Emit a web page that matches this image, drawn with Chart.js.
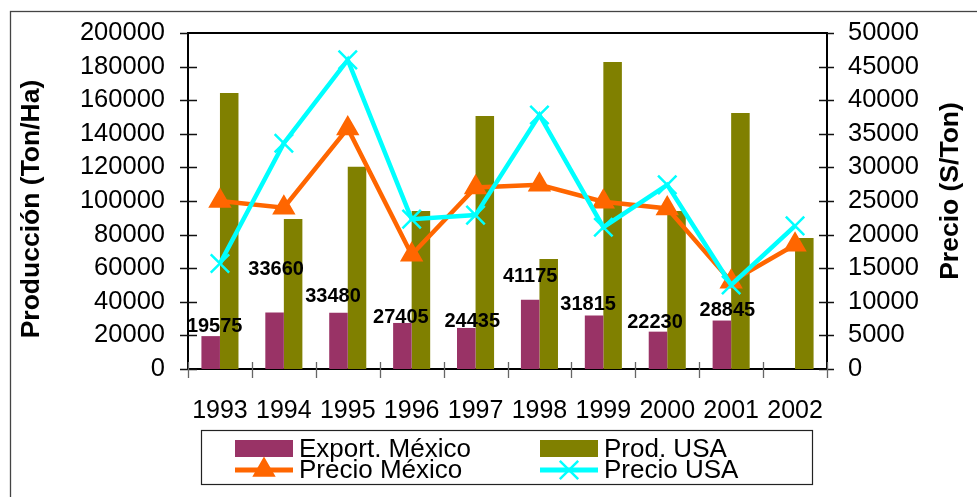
<!DOCTYPE html>
<html>
<head>
<meta charset="utf-8">
<script src="https://cdn.jsdelivr.net/npm/chart.js@4.4.1/dist/chart.umd.min.js"></script>
<style>
  html, body { margin: 0; padding: 0; background: #ffffff; }
  #wrap { width: 977px; height: 497px; }
</style>
</head>
<body>
<div id="wrap"><canvas id="chart" width="977" height="497"></canvas></div>
<script>
// Categories and series
const years = ['1993', '1994', '1995', '1996', '1997', '1998', '1999', '2000', '2001', '2002'];
const exportMexico = [19575, 33660, 33480, 27405, 24435, 41175, 31815, 22230, 28845, null];
const prodUSA = [164300, 89300, 120400, 94000, 150600, 65500, 182700, 94000, 152400, 78000];
const precioMexico = [25000, 24000, 35800, 17000, 27000, 27400, 24900, 23900, 13000, 18500];
const precioUSA = [15700, 33600, 46000, 22300, 22900, 37800, 21100, 27400, 12500, 21300];

// Axis tick values
const prodTicks = [0, 20000, 40000, 60000, 80000, 100000, 120000, 140000, 160000, 180000, 200000];
const precioTicks = [0, 5000, 10000, 15000, 20000, 25000, 30000, 35000, 40000, 45000, 50000];

// Nudges (px) for the export value labels, relative to the top centre of each bar
const labelShift = [[4, -10], [1.5, -43], [-5.5, -16], [-1.5, -5], [6, -6], [0, -23], [-6, -11], [-3, -9], [5.5, -10], [0, 0]];

const FONT = 'Arial, "Liberation Sans", sans-serif';
Chart.defaults.font.family = FONT;
Chart.defaults.color = '#000';

// White background and the outer frame
const framePlugin = {
  id: 'frame',
  beforeDraw(chart) {
    const ctx = chart.ctx;
    ctx.save();
    ctx.fillStyle = '#fff';
    ctx.fillRect(0, 0, chart.width, chart.height);
    ctx.strokeStyle = '#444';
    ctx.lineWidth = 1.3;
    ctx.strokeRect(10.5, 11.5, chart.width + 20, chart.height + 20);
    ctx.restore();
  }
};

// Top edge of the plot and tick marks that cross the axes
const axesPlugin = {
  id: 'axesExtra',
  afterDatasetsDraw(chart) {
    const ctx = chart.ctx;
    const a = chart.chartArea;
    const x = chart.scales.x, y = chart.scales.y, y2 = chart.scales.y2;
    ctx.save();
    ctx.lineCap = 'butt';
    ctx.strokeStyle = '#000';
    ctx.lineWidth = 2;
    ctx.beginPath();
    ctx.moveTo(a.left - 1, a.top);
    ctx.lineTo(a.right + 1, a.top);
    ctx.stroke();

    ctx.lineWidth = 1.3;
    ctx.strokeStyle = '#111';
    ctx.beginPath();
    y.ticks.forEach(t => {
      const p = Math.round(y.getPixelForValue(t.value)) + 0.5;
      ctx.moveTo(a.left - 8, p);
      ctx.lineTo(a.left + (t.value === y.max ? 0 : 9), p);
    });
    y2.ticks.forEach(t => {
      const p = Math.round(y2.getPixelForValue(t.value)) + 0.5;
      ctx.moveTo(a.right - (t.value === y2.max ? 0 : 8), p);
      ctx.lineTo(a.right + 7, p);
    });
    ctx.stroke();

    ctx.strokeStyle = '#666';
    ctx.beginPath();
    for (let i = 0; i <= years.length; i++) {
      const p = Math.round(x.getPixelForValue(i - 0.5)) + 0.5;
      ctx.moveTo(p, a.bottom - 7);
      ctx.lineTo(p, a.bottom + 9);
    }
    ctx.stroke();
    ctx.restore();
  }
};

// Value labels above the export bars
const valueLabels = {
  id: 'valueLabels',
  afterDatasetsDraw(chart) {
    const ctx = chart.ctx;
    const meta = chart.getDatasetMeta(0);
    const data = chart.data.datasets[0].data;
    ctx.save();
    ctx.font = 'bold 20px ' + FONT;
    ctx.fillStyle = '#000';
    ctx.textAlign = 'center';
    ctx.textBaseline = 'middle';
    meta.data.forEach((el, i) => {
      if (data[i] == null) return;
      const s = labelShift[i];
      ctx.fillText(String(data[i]), el.x + s[0], el.y + s[1]);
    });
    ctx.restore();
  }
};

// Rotated axis titles
const axisTitles = {
  id: 'axisTitles',
  afterDraw(chart) {
    const ctx = chart.ctx;
    const a = chart.chartArea;
    const mid = (a.top + a.bottom) / 2;
    const drawTitle = (text, x, y) => {
      ctx.save();
      ctx.font = 'bold 26.5px ' + FONT;
      ctx.fillStyle = '#000';
      ctx.textAlign = 'center';
      ctx.textBaseline = 'middle';
      ctx.translate(x, y);
      ctx.rotate(-Math.PI / 2);
      ctx.fillText(text, 0, 0);
      ctx.restore();
    };
    drawTitle('Producción (Ton/Ha)', 32, mid + 8);
    drawTitle('Precio (S/Ton)', 951, mid - 10);
  }
};

// Boxed two-column legend under the category labels
const boxLegend = {
  id: 'boxLegend',
  afterDraw(chart) {
    const ctx = chart.ctx;
    const ds = chart.data.datasets;
    const box = { l: 201, t: 430, r: 812, b: 484 };
    const cols = [235, 540];
    const rows = [448.5, 470];
    const order = [[0, 0, 0], [1, 1, 0], [2, 0, 1], [3, 1, 1]];
    ctx.save();
    ctx.strokeStyle = '#222';
    ctx.lineWidth = 1.2;
    ctx.strokeRect(box.l + 0.5, box.t + 0.5, box.r - box.l, box.b - box.t);
    ctx.font = '26px ' + FONT;
    ctx.textBaseline = 'middle';
    ctx.textAlign = 'left';
    order.forEach(([di, c, r]) => {
      const d = ds[di];
      const x0 = cols[c], yc = rows[r];
      if (d.type === 'line') {
        ctx.strokeStyle = d.borderColor;
        ctx.lineWidth = 5;
        ctx.beginPath();
        ctx.moveTo(x0, yc);
        ctx.lineTo(x0 + 58, yc);
        ctx.stroke();
        ctx.fillStyle = d.pointBackgroundColor;
        ctx.strokeStyle = d.pointBorderColor;
        ctx.lineWidth = d.pointBorderWidth;
        Chart.helpers.drawPoint(ctx, {
          pointStyle: d.pointStyle, radius: d.pointRadius, rotation: 0, borderWidth: d.pointBorderWidth
        }, x0 + 29, yc);
      } else {
        ctx.fillStyle = d.backgroundColor;
        ctx.fillRect(x0, yc - 8.5, 58, 17);
      }
      ctx.fillStyle = '#000';
      ctx.fillText(d.label, x0 + 64, yc + 1);
    });
    ctx.restore();
  }
};

new Chart(document.getElementById('chart'), {
  data: {
    labels: years,
    datasets: [
      {
        type: 'bar', label: 'Export. México', data: exportMexico, yAxisID: 'y',
        backgroundColor: '#993366', order: 2,
        categoryPercentage: 0.58, barPercentage: 1.0
      },
      {
        type: 'bar', label: 'Prod. USA', data: prodUSA, yAxisID: 'y',
        backgroundColor: '#808000', order: 3,
        categoryPercentage: 0.58, barPercentage: 1.0
      },
      {
        type: 'line', label: 'Precio México', data: precioMexico, yAxisID: 'y2',
        borderColor: '#FF6600', borderWidth: 4.5, tension: 0,
        pointStyle: 'triangle', pointRadius: 11.5, pointBorderWidth: 2,
        pointBackgroundColor: '#FF6600', pointBorderColor: '#FF6600', order: 1
      },
      {
        type: 'line', label: 'Precio USA', data: precioUSA, yAxisID: 'y2',
        borderColor: '#00FFFF', borderWidth: 4.5, tension: 0,
        pointStyle: 'crossRot', pointRadius: 13, pointBorderWidth: 2.5,
        pointBackgroundColor: '#00FFFF', pointBorderColor: '#00FFFF', order: 0
      }
    ]
  },
  options: {
    responsive: false,
    animation: false,
    devicePixelRatio: 1,
    layout: { padding: { top: 33, left: 0, right: 0, bottom: 0 } },
    plugins: {
      legend: { display: false },
      tooltip: { enabled: false },
      title: { display: false }
    },
    scales: {
      x: {
        type: 'category',
        offset: true,
        grid: { display: false },
        border: { display: true, color: '#000', width: 2 },
        ticks: { font: { size: 25 }, color: '#000', padding: 19, maxRotation: 0, autoSkip: false },
        afterFit(s) { s.height = 128; }
      },
      y: {
        position: 'left', min: 0, max: 200000,
        grid: { display: false },
        border: { display: true, color: '#000', width: 2 },
        ticks: { font: { size: 25.5 }, color: '#000', padding: 15, autoSkip: false, callback: v => String(v) },
        afterBuildTicks(s) { s.ticks = prodTicks.map(v => ({ value: v })); },
        afterFit(s) { s.width = 188; }
      },
      y2: {
        position: 'right', min: 0, max: 50000,
        grid: { display: false },
        border: { display: true, color: '#000', width: 2 },
        ticks: { font: { size: 25.5 }, color: '#000', padding: 13, autoSkip: false, callback: v => String(v) },
        afterBuildTicks(s) { s.ticks = precioTicks.map(v => ({ value: v })); },
        afterFit(s) { s.width = 150; }
      }
    }
  },
  plugins: [framePlugin, axesPlugin, valueLabels, axisTitles, boxLegend]
});
</script>
</body>
</html>
